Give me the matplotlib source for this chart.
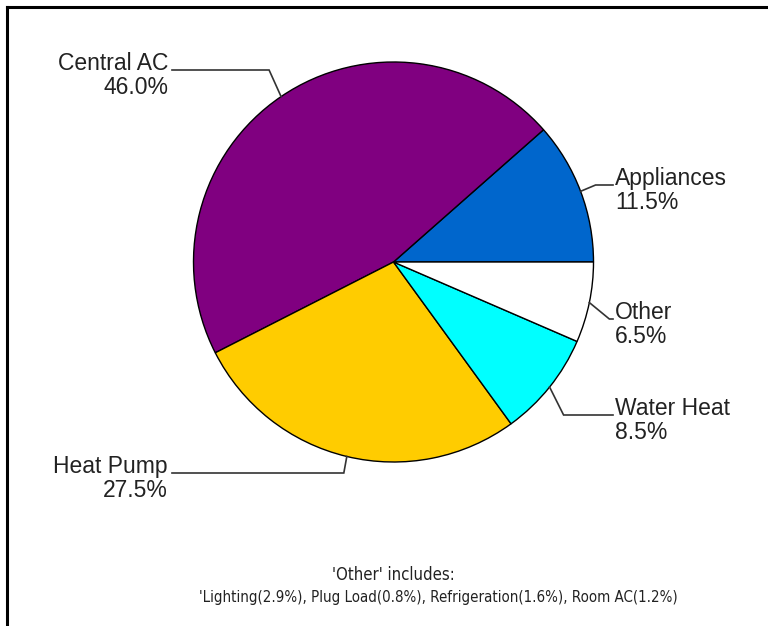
import numpy as np
import matplotlib
matplotlib.use('Agg')
import matplotlib.pyplot as plt
from matplotlib.lines import Line2D

# ── data ──────────────────────────────────────────────────────────
labels = ['Appliances', 'Central AC', 'Heat Pump', 'Water Heat', 'Other']
shares = [11.5, 46.0, 27.5, 8.5, 6.5]
colors = ['#0066CC', '#800080', '#FFCC00', '#00FFFF', '#FFFFFF']
footer_title = "'Other' includes:"
footer_items = ["'Lighting(2.9%)", 'Plug Load(0.8%)', 'Refrigeration(1.6%)', 'Room AC(1.2%)']

# ── layout (pixel units, y measured from the top) ─────────────────
W, H = 768, 626
cx, cy, R = 393.5, 262, 200
label_y = [185, 70, 473, 415, 319]      # baseline of the first label line
elbow_dx = [15, -12, -3, 14, 20]
right_x, left_x = 615, 168

def Y(y):
    return H - y

fig = plt.figure(figsize=(W / 100, H / 100), dpi=100)
ax = fig.add_axes([0, 0, 1, 1])

wedges, _ = ax.pie(shares, colors=colors, startangle=0, counterclock=True,
                   center=(cx, Y(cy)), radius=R,
                   wedgeprops=dict(edgecolor='black', linewidth=1.0))
ax.set_xlim(0, W)
ax.set_ylim(0, H)
ax.set_aspect('equal')
ax.axis('off')

txt_color = '#222222'
font = dict(family=['Liberation Sans', 'DejaVu Sans'], size=16.5, color=txt_color)

for w, name, val, ly, dx in zip(wedges, labels, shares, label_y, elbow_dx):
    mid = np.deg2rad((w.theta1 + w.theta2) / 2)
    px, py = cx + R * np.cos(mid), Y(cy) + R * np.sin(mid)
    ex, ey = px + dx, Y(ly)
    right = np.cos(mid) > 0
    tx = right_x if right else left_x
    lx = tx - 2 if right else tx + 4
    ax.plot([px, ex, lx], [py, ey, ey], color='#333333', lw=1.2,
            solid_joinstyle='miter')
    ha = 'left' if right else 'right'
    ax.text(tx, Y(ly), name, ha=ha, va='baseline', **font)
    ax.text(tx, Y(ly + 24), f'{val:.1f}%', ha=ha, va='baseline', **font)

# ── footer note ───────────────────────────────────────────────────
foot = dict(family=['DejaVu Sans'], color=txt_color, ha='center',
            va='baseline', stretch='condensed')
ax.text(cx, Y(580), footer_title, size=12, **foot)
ax.text(cx + 45, Y(602), ', '.join(footer_items), size=10.8, **foot)

# ── partial frame (top and left edges) ────────────────────────────
fig.add_artist(Line2D([7 / W, 1], [1 - 7 / H, 1 - 7 / H], color='black', lw=2.2,
                      transform=fig.transFigure))
fig.add_artist(Line2D([7 / W, 7 / W], [0, 1 - 7 / H], color='black', lw=2.2,
                      transform=fig.transFigure))

fig.savefig('out.png', dpi=100, facecolor='white')
